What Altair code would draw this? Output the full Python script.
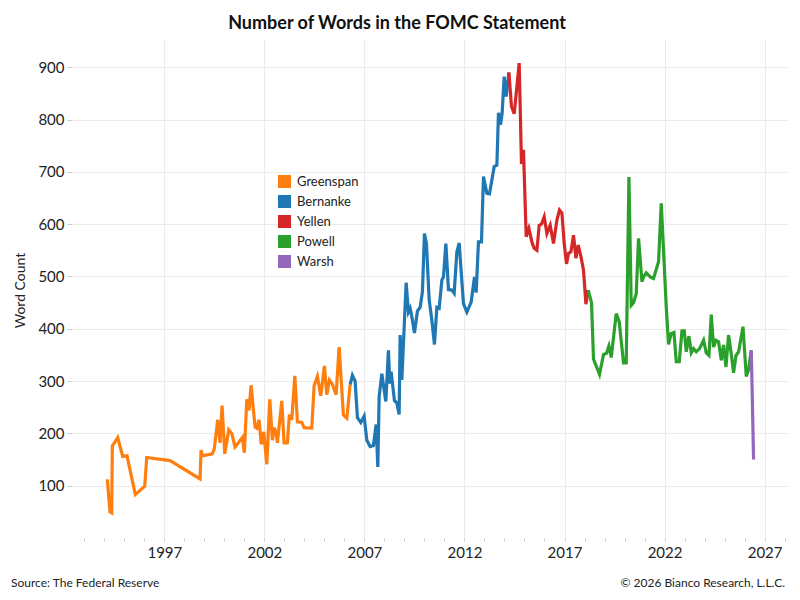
import pandas as pd
import altair as alt

# word counts, x as decimal year
greenspan_years = [1994.15, 1994.285, 1994.37, 1994.40, 1994.67, 1994.92, 1995.135, 1995.55,
                   1996.02, 1996.12, 1997.285, 1998.785, 1998.835, 1998.9, 1999.4, 1999.5,
                   1999.67, 1999.785, 1999.885, 2000.02, 2000.22, 2000.37, 2000.535, 2000.9,
                   2001.0, 2001.12, 2001.235, 2001.335, 2001.535, 2001.62, 2001.735, 2001.835,
                   2001.9, 2001.97, 2002.12, 2002.27, 2002.4, 2002.5, 2002.6, 2002.65,
                   2002.87, 2002.985, 2003.15, 2003.25, 2003.37, 2003.52, 2003.65, 2003.87,
                   2003.985, 2004.37, 2004.485, 2004.65, 2004.82, 2005.0, 2005.12, 2005.25,
                   2005.4, 2005.585, 2005.735, 2005.95, 2006.12, 2006.285]
greenspan_words = [112, 50, 48, 176, 192, 156, 157, 83,
                   99, 154, 148, 113, 168, 157, 161, 171,
                   226, 182, 253, 161, 207, 200, 174, 192,
                   163, 265, 244, 292, 212, 210, 226, 182,
                   182, 203, 141, 265, 187, 211, 198, 182,
                   262, 182, 182, 236, 226, 310, 222, 221,
                   211, 210, 291, 309, 272, 329, 274, 302,
                   294, 274, 365, 235, 229, 293]

bernanke_years = [2006.285, 2006.40, 2006.535, 2006.65, 2006.82, 2006.985, 2007.12, 2007.285,
                  2007.45, 2007.585, 2007.67, 2007.735, 2007.87, 2008.07, 2008.2, 2008.27,
                  2008.335, 2008.5, 2008.62, 2008.735, 2008.785, 2008.87, 2009.085, 2009.2,
                  2009.285, 2009.37, 2009.5, 2009.65, 2009.785, 2009.9, 2010.0, 2010.1,
                  2010.235, 2010.37, 2010.5, 2010.62, 2010.735, 2010.87, 2010.95, 2011.07,
                  2011.2, 2011.37, 2011.485, 2011.62, 2011.735, 2011.95, 2012.12, 2012.335,
                  2012.5, 2012.585, 2012.7, 2012.85, 2012.95, 2013.12, 2013.25, 2013.485,
                  2013.62, 2013.7, 2013.8, 2013.885, 2013.985, 2014.085, 2014.22]
bernanke_words = [293, 311, 300, 230, 221, 233, 187, 175,
                  177, 217, 136, 270, 314, 261, 359, 295,
                  318, 263, 258, 236, 388, 302, 488, 432,
                  439, 423, 392, 434, 441, 471, 582, 563,
                  456, 416, 370, 441, 439, 493, 499, 563,
                  475, 474, 468, 547, 564, 448, 432, 451,
                  499, 469, 566, 566, 691, 659, 658, 710,
                  713, 813, 790, 813, 882, 844, 890]

yellen_years = [2014.22, 2014.35, 2014.485, 2014.62, 2014.735, 2014.85, 2014.95, 2015.085,
                2015.22, 2015.37, 2015.485, 2015.62, 2015.735, 2015.85, 2015.985, 2016.12,
                2016.285, 2016.45, 2016.62, 2016.75, 2016.87, 2016.985, 2017.1, 2017.2,
                2017.32, 2017.45, 2017.57, 2017.685, 2017.82, 2017.95, 2018.07, 2018.185]
yellen_words = [890, 825, 811, 863, 908, 715, 742, 576,
                592, 566, 554, 550, 598, 600, 614, 582,
                598, 563, 608, 627, 621, 563, 524, 544,
                547, 579, 535, 560, 538, 512, 447, 474]

powell_years = [2018.185, 2018.35, 2018.45, 2018.75, 2018.95, 2019.1, 2019.22, 2019.335,
                2019.585, 2019.735, 2019.95, 2020.085, 2020.22, 2020.335, 2020.45, 2020.585,
                2020.7, 2020.87, 2020.95, 2021.085, 2021.285, 2021.45, 2021.7, 2021.835,
                2022.085, 2022.2, 2022.335, 2022.47, 2022.585, 2022.735, 2022.87, 2022.985,
                2023.085, 2023.22, 2023.335, 2023.45, 2023.585, 2023.75, 2023.95, 2024.085,
                2024.22, 2024.335, 2024.45, 2024.57, 2024.7, 2024.835, 2024.95, 2025.07,
                2025.2, 2025.32, 2025.45, 2025.57, 2025.7, 2025.92, 2026.085, 2026.2,
                2026.335]
powell_words = [474, 450, 342, 313, 351, 353, 367, 345,
                429, 413, 335, 335, 690, 445, 450, 467,
                573, 490, 499, 507, 499, 496, 528, 640,
                442, 370, 391, 393, 337, 337, 396, 396,
                356, 386, 354, 362, 356, 362, 378, 354,
                349, 427, 365, 378, 375, 340, 369, 327,
                388, 356, 316, 349, 356, 404, 309, 322,
                359]

warsh_years = [2026.335, 2026.45]
warsh_words = [359, 150]

chairs = ["Greenspan", "Bernanke", "Yellen", "Powell", "Warsh"]
chair_colors = ["#ff7f0e", "#1f77b4", "#d62728", "#2ca02c", "#9467bd"]

series = [
    ("Greenspan", greenspan_years, greenspan_words),
    ("Bernanke", bernanke_years, bernanke_words),
    ("Yellen", yellen_years, yellen_words),
    ("Powell", powell_years, powell_words),
    ("Warsh", warsh_years, warsh_words),
]
df = pd.concat(
    [pd.DataFrame({"year": yrs, "words": wds, "chair": name}) for name, yrs, wds in series],
    ignore_index=True,
)

major = "(datum.value - 1997) % 5 == 0"
chair_scale = alt.Scale(domain=chairs, range=chair_colors)
chair_legend = alt.Legend(
    title=None,
    orient="none",
    legendX=206,
    legendY=136,
    symbolType="square",
    symbolSize=169,
    symbolOpacity=1,
    symbolStrokeWidth=0,
    labelFontSize=13,
    labelOffset=6,
    rowPadding=6,
    padding=0,
)

x_enc = alt.X(
    "year:Q",
    title=None,
    scale=alt.Scale(domain=[1992.385, 2028.12], nice=False, zero=False),
    axis=alt.Axis(
        values=list(range(1993, 2029)),
        labelExpr=f"{major} ? format(datum.value, 'd') : ''",
        gridOpacity={"condition": {"test": major, "value": 1}, "value": 0},
        tickSize=3,
        tickColor="#cccccc",
        labelPadding=4,
        domain=False,
    ),
)
y_enc = alt.Y(
    "words:Q",
    title="Word Count",
    scale=alt.Scale(domain=[0, 954], nice=False),
    axis=alt.Axis(
        values=[100, 200, 300, 400, 500, 600, 700, 800, 900],
        tickSize=5,
        tickColor="#cccccc",
        labelPadding=3,
        domain=False,
        titleX=-52,
        titleY=251,
        titleAlign="center",
        titleBaseline="middle",
        titleFontSize=14,
        titleFontWeight="normal",
    ),
)

# invisible squares, drawn first, so the legend gets filled swatches
swatches = alt.Chart(df).mark_square(opacity=0, size=1).encode(
    x=x_enc,
    y=y_enc,
    color=alt.Color("chair:N", scale=chair_scale, legend=chair_legend),
)

lines = alt.Chart(df).mark_line(strokeWidth=3.2).encode(
    x=x_enc,
    y=y_enc,
    color=alt.Color("chair:N", scale=chair_scale, legend=chair_legend),
)

notes = pd.DataFrame({"k": [0]})
source = alt.Chart(notes).mark_text(align="left", baseline="middle", fontSize=12, color="#222222").encode(
    x=alt.value(-61), y=alt.value(544), text=alt.value("Source: The Federal Reserve")
)
credit = alt.Chart(notes).mark_text(align="right", baseline="middle", fontSize=12, color="#222222").encode(
    x=alt.value(713), y=alt.value(544), text=alt.value("© 2026 Bianco Research, L.L.C.")
)

chart = alt.layer(swatches, lines, source, credit).properties(
    width=715,
    height=499,
    autosize=alt.AutoSizeParams(type="none"),
    padding={"left": 64, "top": 31, "right": 5, "bottom": 54},
    title=alt.TitleParams(
        "Number of Words in the FOMC Statement",
        fontSize=18,
        fontWeight="bold",
        color="#111111",
        anchor="middle",
        frame="group",
        dx=-32.5,
        offset=6,
    ),
).configure(
    font="Lato",
).configure_axis(
    gridColor="#ebebeb",
    labelFontSize=15,
    labelColor="#222222",
    titleColor="#222222",
).configure_legend(
    labelColor="#222222",
).configure_view(
    strokeWidth=0
)

chart.save("out.html", embed_options={"renderer": "svg", "actions": False})
